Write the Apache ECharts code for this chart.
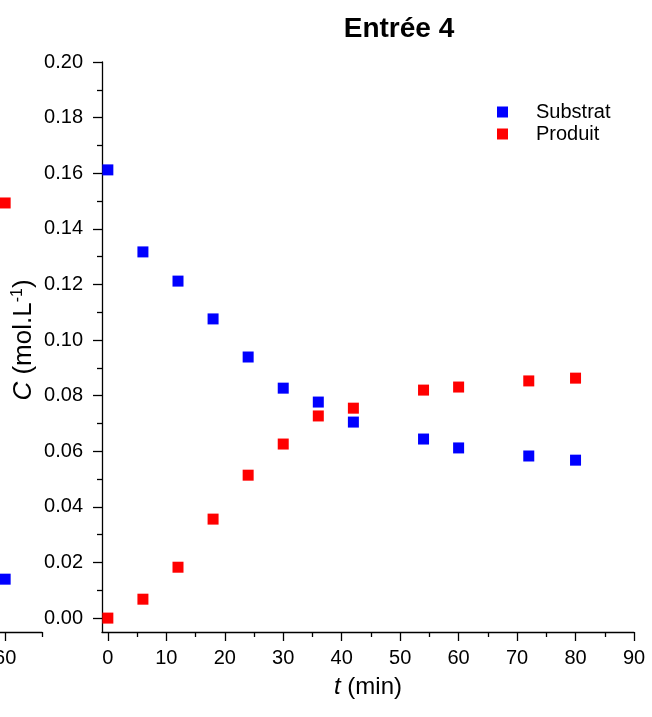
<!DOCTYPE html>
<html>
<head>
<meta charset="utf-8">
<script src="https://cdn.jsdelivr.net/npm/echarts@6/dist/echarts.min.js"></script>
<style>
html,body{margin:0;padding:0;background:#fff;}
#chart{width:652px;height:717px;}
</style>
</head>
<body>
<div id="chart"></div>
<script>
// ---- data ----
var timeMin = [0, 6, 12, 18, 24, 30, 36, 42, 54, 60, 72, 80];
var substrat = [0.1612, 0.1317, 0.1212, 0.1076, 0.0939, 0.0827, 0.0777, 0.0705, 0.0644, 0.0612, 0.0583, 0.0568];
var produit  = [0.0000, 0.0068, 0.0183, 0.0356, 0.0514, 0.0626, 0.0727, 0.0755, 0.0820, 0.0831, 0.0853, 0.0863];
// fragment of the neighbouring panel (cut at the left edge)
var fragTime = [60];
var fragSubstrat = [0.014];
var fragProduit = [0.1493];
// ticks
var xMajorTicks = [0, 10, 20, 30, 40, 50, 60, 70, 80, 90];
var xMinorTicks = [5, 15, 25, 35, 45, 55, 65, 75, 85];
var yMajorTicks = [0, 0.02, 0.04, 0.06, 0.08, 0.10, 0.12, 0.14, 0.16, 0.18, 0.20];
var yMinorTicks = [0.01, 0.03, 0.05, 0.07, 0.09, 0.11, 0.13, 0.15, 0.17, 0.19];
var fragXMajor = [60];
var fragXMinor = [65];

function pairs(xs, ys){ return xs.map(function(x,i){ return [x, ys[i]]; }); }

var FONT = 'Liberation Sans, Arial, sans-serif';
var LINE = {color:'#000', width:1.3};
var axisLine = {show:true, onZero:false, lineStyle:LINE};
var noLine = {show:false, onZero:false};
var chart = echarts.init(document.getElementById('chart'), null, {renderer:'canvas'});

var mainX = {min:-1, max:90};
var mainY = {min:-0.005, max:0.2};
var fragX = {min:59.3, max:65};

chart.setOption({
  animation:false,
  backgroundColor:'#fff',
  title:{
    text:'Entrée 4', left:394, top:10, textAlign:'center',
    textStyle:{fontFamily:FONT, fontWeight:'bold', fontSize:28, color:'#000'}
  },
  legend:{
    data:['Substrat','Produit'], orient:'vertical', left:492, top:97,
    icon:'rect', itemWidth:11, itemHeight:11, itemGap:2,
    textStyle:{fontFamily:FONT, fontSize:20, color:'#000', padding:[0,0,0,23]}
  },
  grid:[
    {left:102, right:18, top:62, bottom:85, containLabel:false, outerBoundsMode:'none'},
    {left:0, width:42, top:62, bottom:85, containLabel:false, outerBoundsMode:'none'}
  ],
  xAxis:[
    {gridIndex:0, type:'value', position:'bottom', min:mainX.min, max:mainX.max,
     name:'{i|t} (min)', nameLocation:'middle', nameGap:43, nameMoveOverlap:false,
     nameTextStyle:{fontFamily:FONT, fontSize:24, color:'#000',
       rich:{i:{fontStyle:'italic', fontFamily:FONT, fontSize:24, color:'#000'}}},
     axisLine:axisLine, splitLine:{show:false},
     axisTick:{show:true, inside:false, length:9, customValues:xMajorTicks, lineStyle:LINE},
     axisLabel:{show:true, customValues:xMajorTicks, fontFamily:FONT, fontSize:20, color:'#000', margin:16}
    },
    {gridIndex:0, type:'value', position:'bottom', offset:0, min:mainX.min, max:mainX.max,
     axisLine:noLine, splitLine:{show:false},
     axisTick:{show:true, length:5, customValues:xMinorTicks, lineStyle:LINE},
     axisLabel:{show:false}
    },
    {gridIndex:1, type:'value', position:'bottom', min:fragX.min, max:fragX.max,
     axisLine:axisLine, splitLine:{show:false},
     axisTick:{show:true, length:9, customValues:fragXMajor, lineStyle:LINE},
     axisLabel:{show:true, customValues:fragXMajor, fontFamily:FONT, fontSize:20, color:'#000', margin:16}
    },
    {gridIndex:1, type:'value', position:'bottom', offset:0, min:fragX.min, max:fragX.max,
     axisLine:noLine, splitLine:{show:false},
     axisTick:{show:true, length:5, customValues:fragXMinor, lineStyle:LINE},
     axisLabel:{show:false}
    }
  ],
  yAxis:[
    {gridIndex:0, type:'value', position:'left', min:mainY.min, max:mainY.max,
     name:'{i|C} (mol.L{s|-1})', nameLocation:'middle', nameGap:65, nameRotate:90, nameMoveOverlap:false,
     nameTextStyle:{fontFamily:FONT, fontSize:26, color:'#000', padding:[0,0,0,14],
       rich:{i:{fontStyle:'italic', fontFamily:FONT, fontSize:26, color:'#000'},
             s:{fontFamily:FONT, fontSize:16, color:'#000', verticalAlign:'top', padding:[0,0,11,0]}}},
     axisLine:axisLine, splitLine:{show:false},
     axisTick:{show:true, length:9, customValues:yMajorTicks, lineStyle:LINE},
     axisLabel:{show:true, customValues:yMajorTicks, fontFamily:FONT, fontSize:20, color:'#000', margin:19,
       formatter:function(v){ return v.toFixed(2); }}
    },
    {gridIndex:0, type:'value', position:'left', offset:0, min:mainY.min, max:mainY.max,
     axisLine:noLine, splitLine:{show:false},
     axisTick:{show:true, length:5, customValues:yMinorTicks, lineStyle:LINE},
     axisLabel:{show:false}
    },
    {gridIndex:1, type:'value', min:mainY.min, max:mainY.max, show:false}
  ],
  series:[
    {name:'Substrat', type:'scatter', xAxisIndex:0, yAxisIndex:0, symbol:'rect', symbolSize:11,
     itemStyle:{color:'#0000ff', opacity:1}, data:pairs(timeMin, substrat)},
    {name:'Produit', type:'scatter', xAxisIndex:0, yAxisIndex:0, symbol:'rect', symbolSize:11,
     itemStyle:{color:'#ff0000', opacity:1}, data:pairs(timeMin, produit)},
    {name:'fragSub', type:'scatter', xAxisIndex:2, yAxisIndex:2, symbol:'rect', symbolSize:11,
     itemStyle:{color:'#0000ff', opacity:1}, data:pairs(fragTime, fragSubstrat), clip:false},
    {name:'fragProd', type:'scatter', xAxisIndex:2, yAxisIndex:2, symbol:'rect', symbolSize:11,
     itemStyle:{color:'#ff0000', opacity:1}, data:pairs(fragTime, fragProduit), clip:false}
  ]
});
</script>
</body>
</html>
